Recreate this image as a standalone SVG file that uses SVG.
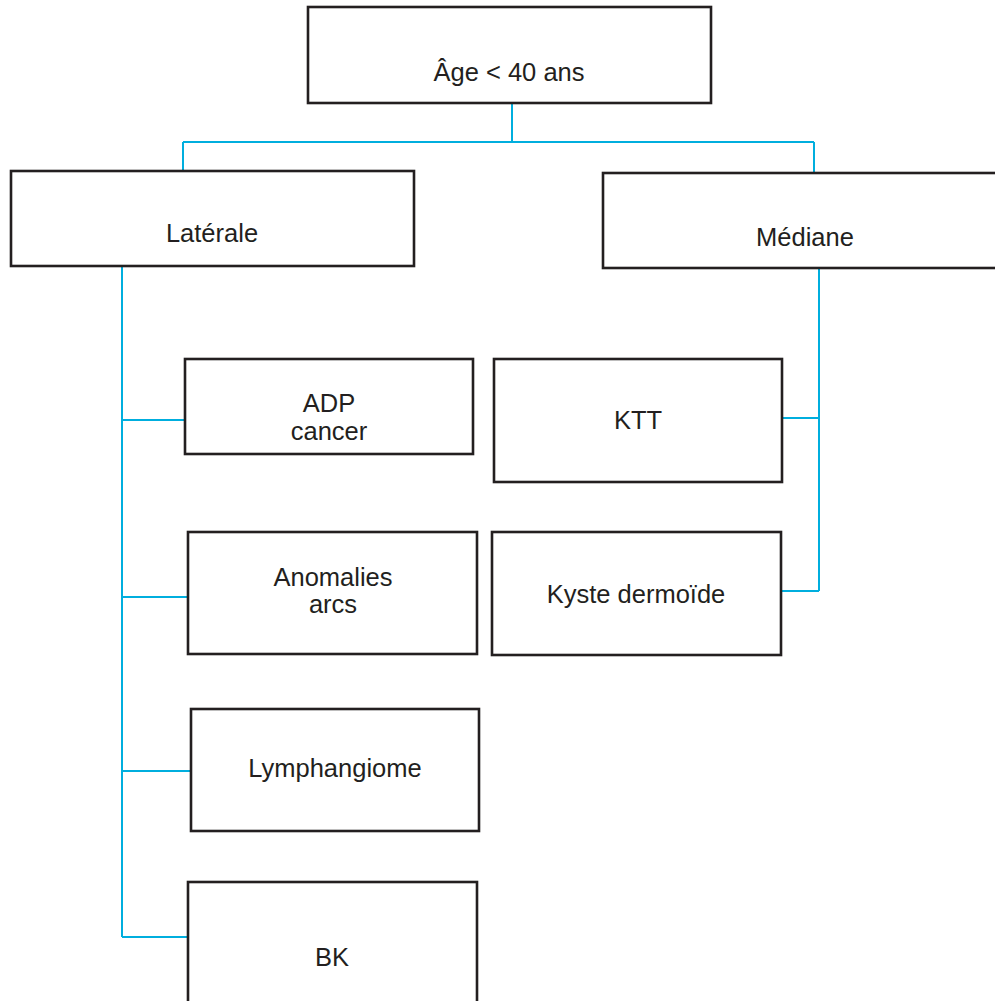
<svg xmlns="http://www.w3.org/2000/svg" width="995" height="1001" viewBox="0 0 995 1001">
<style>
.box{fill:#fff;stroke:#231f20;stroke-width:2.6}
.t{font-family:"Liberation Sans",Arial,sans-serif;font-size:25.5px;fill:#231f20;text-anchor:middle}
.c{fill:none;stroke:#00aede;stroke-width:2}
</style>
<rect width="995" height="1001" fill="#fff"/>
<g id="connectors">
<path class="c" d="M512 103V142M183 142H814M183 142V171M814 142V173"/>
<path class="c" d="M122 266V937M122 420H185M122 597H188M122 771H191M122 937H188"/>
<path class="c" d="M819 268V591M782 418H819M781 591H819"/>
</g>
<g id="n-age"><rect class="box" x="308" y="7" width="403" height="96"/><text class="t" x="509" y="81">Âge &lt; 40 ans</text></g>
<g id="n-laterale"><rect class="box" x="11" y="171" width="403" height="95"/><text class="t" x="212" y="242">Latérale</text></g>
<g id="n-mediane"><rect class="box" x="603" y="173" width="400" height="95"/><text class="t" x="805" y="246">Médiane</text></g>
<g id="n-adp"><rect class="box" x="185" y="359" width="288" height="95"/><text class="t" x="329" y="412">ADP</text><text class="t" x="329" y="440">cancer</text></g>
<g id="n-anomalies"><rect class="box" x="188" y="532" width="289" height="122"/><text class="t" x="333" y="586">Anomalies</text><text class="t" x="333" y="613">arcs</text></g>
<g id="n-lymph"><rect class="box" x="191" y="709" width="288" height="122"/><text class="t" x="335" y="777">Lymphangiome</text></g>
<g id="n-bk"><rect class="box" x="188" y="882" width="289" height="130"/><text class="t" x="332" y="966">BK</text></g>
<g id="n-ktt"><rect class="box" x="494" y="359" width="288" height="123"/><text class="t" x="638" y="429">KTT</text></g>
<g id="n-kyste"><rect class="box" x="492" y="532" width="289" height="123"/><text class="t" x="636" y="603">Kyste dermoïde</text></g>
</svg>
